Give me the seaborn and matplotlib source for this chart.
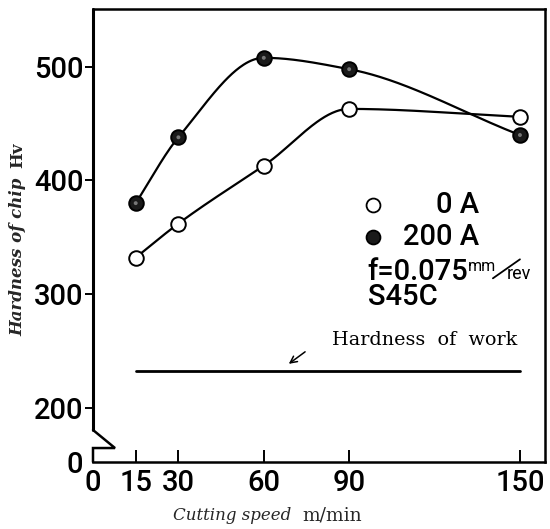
import numpy as np
import pandas as pd
import matplotlib
matplotlib.use("Agg")
import matplotlib.pyplot as plt
import matplotlib.transforms as mtransforms
import seaborn as sns

# ---- data ----
speed = [15, 30, 60, 90, 150]
hv_0A = [332, 362, 413, 463, 456]
hv_200A = [380, 438, 508, 498, 440]
work_hardness = 232
work_span = [15, 150]
xticks = [0, 15, 30, 60, 90, 150]
yticks = [200, 300, 400, 500]
series_labels = ["0 A", "200 A"]

sns.set_theme(style="white")
plt.rcParams["font.family"] = ["Roboto", "DejaVu Sans"]


def pchip(x, y, xs):
    x = np.asarray(x, float); y = np.asarray(y, float)
    h = np.diff(x); d = np.diff(y) / h
    n = len(x); m = np.zeros(n)
    for k in range(1, n - 1):
        if d[k - 1] * d[k] > 0:
            w1 = 2 * h[k] + h[k - 1]; w2 = h[k] + 2 * h[k - 1]
            m[k] = (w1 + w2) / (w1 / d[k - 1] + w2 / d[k])
    m[0] = d[0]; m[-1] = d[-1]
    out = np.empty_like(xs)
    for i, xv in enumerate(xs):
        k = min(np.searchsorted(x, xv, side="right") - 1, n - 2)
        t = (xv - x[k]) / h[k]
        h00 = 2 * t**3 - 3 * t**2 + 1; h10 = t**3 - 2 * t**2 + t
        h01 = -2 * t**3 + 3 * t**2; h11 = t**3 - t**2
        out[i] = h00 * y[k] + h10 * h[k] * m[k] + h01 * y[k + 1] + h11 * h[k] * m[k + 1]
    return out


W, H = 550, 529
fig = plt.figure(figsize=(W / 100, H / 100), dpi=100)
ax = fig.add_axes([93 / W, 1 - 462 / H, (545 - 93) / W, (462 - 9) / H])

XMAX = 158.8
YMIN, YMAX = 152, 551
ax.set_xlim(0, XMAX)
ax.set_ylim(YMIN, YMAX)

xs = np.linspace(speed[0], speed[-1], 300)
for vals in (hv_0A, hv_200A):
    sns.lineplot(x=xs, y=pchip(speed, vals, xs), ax=ax, color="black", lw=1.6, sort=False)

sns.scatterplot(x=speed, y=hv_0A, ax=ax, marker="o", s=110, facecolor="white",
                edgecolor="black", linewidth=1.4, zorder=5)
sns.scatterplot(x=speed, y=hv_200A, ax=ax, marker="o", s=110, facecolor="#1a1a1a",
                edgecolor="black", linewidth=1.4, zorder=5)
sns.scatterplot(x=speed, y=hv_200A, ax=ax, marker="o", s=8, facecolor="#777777",
                edgecolor="none", zorder=6)

# hardness of work
sns.lineplot(x=work_span, y=[work_hardness] * 2, ax=ax, color="black", lw=2.0)
ax.text(84.0, 255.2, "Hardness  of  work", family="DejaVu Serif", fontsize=13.8,
        ha="left", va="baseline", color="black")
ax.annotate("", xy=(68.0, 237.0), xytext=(75.3, 250.5),
            arrowprops=dict(arrowstyle="->", color="black", lw=1.1, mutation_scale=12))

# legend-like text block
tw = "medium"
ax.scatter([98.3], [378.4], s=100, facecolor="white", edgecolor="black", linewidth=1.3, zorder=5)
ax.scatter([98.3], [350.2], s=100, facecolor="#1a1a1a", edgecolor="black", linewidth=1.3, zorder=5)
tfs = 21
ax.text(135.5, 378.4, series_labels[0], fontsize=tfs, weight=tw, ha="right", va="center", color="black")
ax.text(135.5, 350.2, series_labels[1], fontsize=tfs, weight=tw, ha="right", va="center", color="black")
ax.text(96.5, 319.4, "f=0.075", fontsize=tfs, weight=tw, ha="left", va="center", color="black")
ax.text(131.6, 324.5, "mm", fontsize=11.5, ha="left", va="center", color="black")
ax.text(145.3, 318.0, "rev", fontsize=13, ha="left", va="center", color="black")
ax.plot([140.5, 150.0], [313.8, 330.5], color="black", lw=1.3)
ax.text(96.5, 297.0, "S45C", fontsize=tfs, weight=tw, ha="left", va="center", color="black")

# ticks
ax.set_xticks(xticks)
ax.set_xticklabels([str(v) for v in xticks], fontsize=21, weight=tw)
ax.set_yticks([YMIN] + yticks)
ax.set_yticklabels(["0"] + [str(v) for v in yticks], fontsize=21, weight=tw)
ax.tick_params(axis="x", direction="in", length=9, width=1.4, pad=5, colors="black", bottom=True)
ax.tick_params(axis="y", direction="out", length=6, width=1.4, pad=1, colors="black", left=True)
ax.yaxis.get_major_ticks()[0].tick1line.set_visible(False)
ax.xaxis.get_major_ticks()[0].tick1line.set_visible(False)

for side in ("top", "right", "bottom"):
    ax.spines[side].set_visible(True)
    ax.spines[side].set_color("black")
    ax.spines[side].set_linewidth(1.8)
ax.spines["left"].set_visible(False)

# broken left axis
ybreak_top = 180.2
ybreak_low = 164.3
trans = mtransforms.blended_transform_factory(ax.transAxes, ax.transData)
ax.plot([0, 0], [YMAX, ybreak_top], color="black", lw=2.2, transform=trans, clip_on=False)
ax.plot([0, 22 / 452, 0, 0], [ybreak_top, ybreak_low, ybreak_low, YMIN], color="black",
        lw=1.8, transform=trans, clip_on=False, solid_joinstyle="miter")

# axis titles
fig.text(173 / W, 1 - 520 / H, "Cutting speed", fontsize=12, family="DejaVu Serif",
         style="italic", ha="left", va="baseline")
fig.text(302 / W, 1 - 520 / H, "m/min", fontsize=13.5, family="DejaVu Serif",
         ha="left", va="baseline")
fig.text(18 / W, 1 - 336 / H, "Hardness of chip", fontsize=12, family="DejaVu Serif",
         style="italic", weight="bold", rotation=90, ha="center", va="bottom")
fig.text(18 / W, 1 - 168 / H, "Hv", fontsize=12, family="DejaVu Serif",
         weight="bold", rotation=90, ha="center", va="bottom")

fig.savefig("out.png", dpi=100, facecolor="white")
